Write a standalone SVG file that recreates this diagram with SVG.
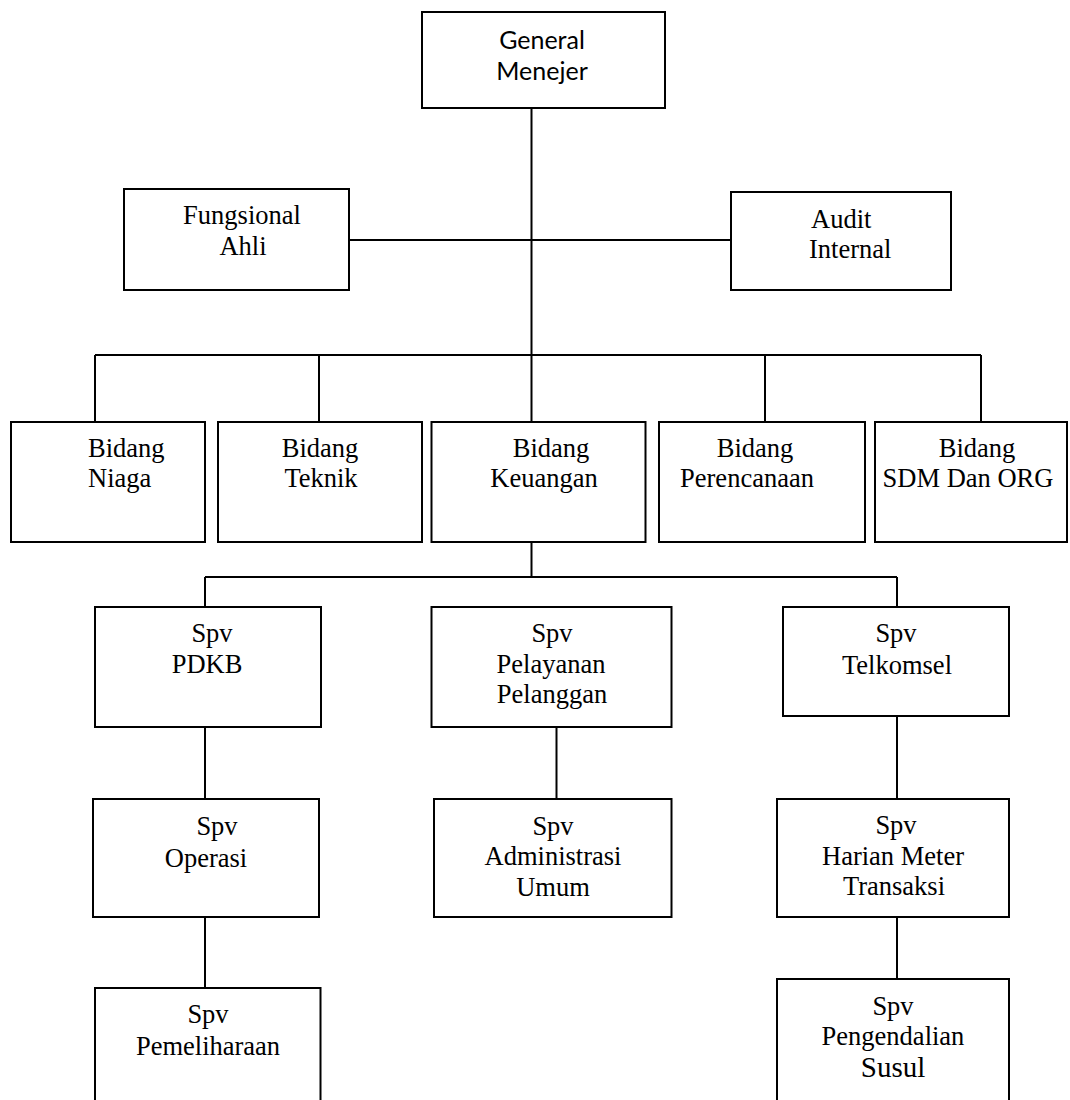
<svg xmlns="http://www.w3.org/2000/svg" width="1070" height="1100" viewBox="0 0 1070 1100">
<style>
.box{fill:#fff;stroke:#000;stroke-width:2}
.ln{stroke:#000;stroke-width:2;fill:none}
.t{font-family:"Liberation Serif","Times New Roman",serif;font-size:26.5px;fill:#000;text-anchor:middle}
.s{text-anchor:start}
.c{font-family:Lato,"Open Sans","Liberation Sans",sans-serif;font-size:25px;fill:#000;text-anchor:middle}
</style>
<rect width="1070" height="1100" fill="#fff"/>
<g id="connectors">
<line class="ln" x1="531.5" y1="108" x2="531.5" y2="422"/>
<line class="ln" x1="349" y1="240" x2="731" y2="240"/>
<line class="ln" x1="95" y1="355" x2="981" y2="355"/>
<line class="ln" x1="95" y1="355" x2="95" y2="422"/>
<line class="ln" x1="319" y1="355" x2="319" y2="422"/>
<line class="ln" x1="765" y1="355" x2="765" y2="422"/>
<line class="ln" x1="981" y1="355" x2="981" y2="422"/>
<line class="ln" x1="531.5" y1="542" x2="531.5" y2="577"/>
<line class="ln" x1="205" y1="577" x2="897" y2="577"/>
<line class="ln" x1="205" y1="577" x2="205" y2="607"/>
<line class="ln" x1="897" y1="577" x2="897" y2="607"/>
<line class="ln" x1="205" y1="727" x2="205" y2="799"/>
<line class="ln" x1="556.5" y1="727" x2="556.5" y2="799"/>
<line class="ln" x1="897" y1="716" x2="897" y2="799"/>
<line class="ln" x1="205" y1="908" x2="205" y2="988"/>
<line class="ln" x1="897" y1="917" x2="897" y2="979"/>
</g>
<g id="general-menejer">
<rect class="box" x="422" y="12" width="243" height="96"/>
<text class="c" x="542" y="49">General</text>
<text class="c" x="542" y="80">Menejer</text>
</g>
<g id="fungsional-ahli">
<rect class="box" x="124" y="189" width="225" height="101"/>
<text class="t" x="242" y="224">Fungsional</text>
<text class="t" x="243" y="255">Ahli</text>
</g>
<g id="audit-internal">
<rect class="box" x="731" y="192" width="220" height="98"/>
<text class="t s" x="811" y="228">Audit</text>
<text class="t s" x="809" y="258">Internal</text>
</g>
<g id="bidang-niaga">
<rect class="box" x="11" y="422" width="194" height="120"/>
<text class="t s" x="88" y="457">Bidang</text>
<text class="t s" x="88" y="487">Niaga</text>
</g>
<g id="bidang-teknik">
<rect class="box" x="218" y="422" width="204" height="120"/>
<text class="t" x="320" y="457">Bidang</text>
<text class="t" x="321" y="487">Teknik</text>
</g>
<g id="bidang-keuangan">
<rect class="box" x="431.5" y="422" width="214" height="120"/>
<text class="t" x="551" y="457">Bidang</text>
<text class="t" x="544" y="487">Keuangan</text>
</g>
<g id="bidang-perencanaan">
<rect class="box" x="659" y="422" width="206" height="120"/>
<text class="t" x="755" y="457">Bidang</text>
<text class="t" x="747" y="487">Perencanaan</text>
</g>
<g id="bidang-sdm">
<rect class="box" x="875" y="422" width="192" height="120"/>
<text class="t" x="977" y="457">Bidang</text>
<text class="t" x="968" y="487">SDM Dan ORG</text>
</g>
<g id="spv-pdkb">
<rect class="box" x="95" y="607" width="226" height="120"/>
<text class="t" x="212" y="642">Spv</text>
<text class="t" x="207" y="673">PDKB</text>
</g>
<g id="spv-pelayanan">
<rect class="box" x="431.5" y="607" width="240" height="120"/>
<text class="t" x="552" y="642">Spv</text>
<text class="t" x="551" y="673">Pelayanan</text>
<text class="t" x="552" y="703">Pelanggan</text>
</g>
<g id="spv-telkomsel">
<rect class="box" x="783" y="607" width="226" height="109"/>
<text class="t" x="896" y="642">Spv</text>
<text class="t" x="897" y="674">Telkomsel</text>
</g>
<g id="spv-operasi">
<rect class="box" x="93" y="799" width="226" height="118"/>
<text class="t" x="217" y="835">Spv</text>
<text class="t" x="206" y="867">Operasi</text>
</g>
<g id="spv-administrasi">
<rect class="box" x="434" y="799" width="237.5" height="118"/>
<text class="t" x="553" y="835">Spv</text>
<text class="t" x="553" y="865">Administrasi</text>
<text class="t" x="553" y="896">Umum</text>
</g>
<g id="spv-harian">
<rect class="box" x="777" y="799" width="232" height="118"/>
<text class="t" x="896" y="834">Spv</text>
<text class="t" x="893" y="865">Harian Meter</text>
<text class="t" x="894" y="895">Transaksi</text>
</g>
<g id="spv-pemeliharaan">
<rect class="box" x="95" y="988" width="225.5" height="130"/>
<text class="t" x="208" y="1023">Spv</text>
<text class="t" x="208" y="1055">Pemeliharaan</text>
</g>
<g id="spv-pengendalian">
<rect class="box" x="777" y="979" width="232" height="140"/>
<text class="t" x="893" y="1015">Spv</text>
<text class="t" x="893" y="1045">Pengendalian</text>
<text class="t" x="893" y="1077" style="font-size:29px">Susul</text>
</g>
</svg>
